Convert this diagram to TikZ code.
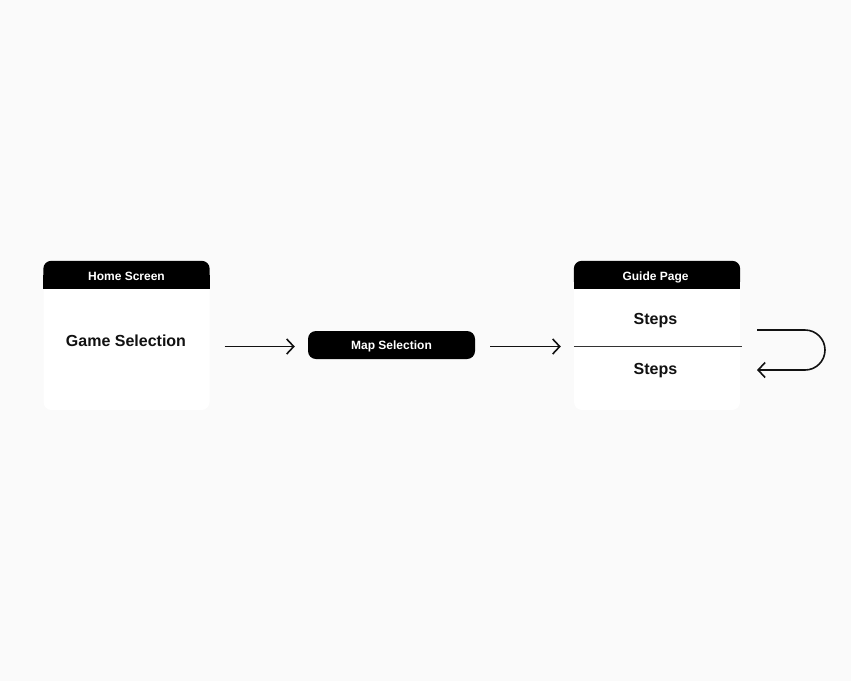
\documentclass[tikz,border=0pt]{standalone}
\usepackage{fontspec}
\setmainfont{Liberation Sans}
\usetikzlibrary{arrows.meta}
\definecolor{bgcol}{HTML}{FAFAFA}
\definecolor{inkcol}{HTML}{111111}
\tikzset{
  card/.style={fill=white, rounded corners=8pt, minimum width=166pt, minimum height=149pt, inner sep=0pt},
  headtext/.style={text=white, font=\fontsize{12}{14}\selectfont\bfseries},
  bodytext/.style={text=inkcol, font=\fontsize{16}{19}\selectfont\bfseries},
  flow/.style={line width=1.6pt, inkcol, -{Straight Barb[length=7pt,width=15pt]}},
}
\begin{document}
\begin{tikzpicture}[x=1pt,y=-1pt]
\fill[bgcol] (0,0) rectangle (851,681);
\useasboundingbox (0,0) rectangle (851,681);
% home screen card
\node[card] (home) at (126.5,335.5) {};
\fill[black, rounded corners=8pt] (home.north west) rectangle ([yshift=-28pt]home.north east);
\fill[black] ([yshift=-14pt]home.north west) rectangle ([yshift=-28pt]home.north east);
\node[headtext, anchor=base] (homehead) at (126.5,280.5) {Home Screen};
\node[bodytext, anchor=base] (gamesel) at (126,346.7) {Game Selection};
% map selection pill
\node[fill=black, rounded corners=8pt, minimum width=167pt, minimum height=28pt, inner sep=0pt,
  text height=8.6pt, text depth=0pt, headtext] (map) at (391.5,345) {Map Selection};
% guide page card
\node[card] (guide) at (657,335.5) {};
\fill[black, rounded corners=8pt] (guide.north west) rectangle ([yshift=-28pt]guide.north east);
\fill[black] ([yshift=-14pt]guide.north west) rectangle ([yshift=-28pt]guide.north east);
\node[headtext, anchor=base] (guidehead) at (655.5,280) {Guide Page};
\node[bodytext, anchor=base] (stepa) at (655.5,324) {Steps};
\node[bodytext, anchor=base] (stepb) at (655.5,374) {Steps};
\draw[line width=1pt, black!80] ([yshift=-10.5pt]guide.west) -- ([yshift=-10.5pt,xshift=1.5pt]guide.east);
% arrows
\draw[flow, shorten <=15pt, shorten >=13pt] ([yshift=-1.5pt]home.east |- map) -- ([yshift=-1.5pt]map.west);
\draw[flow, shorten <=15pt, shorten >=13pt] ([yshift=-1.5pt]map.east) -- ([yshift=-1.5pt]map -| guide.west);
% loop back
\coordinate (loopin) at (757,330);
\coordinate (loopout) at (757,370);
\draw[flow] (loopin) -- ++(48,0) arc[start angle=-90, end angle=90, radius=20] -- (loopout);
\end{tikzpicture}
\end{document}
